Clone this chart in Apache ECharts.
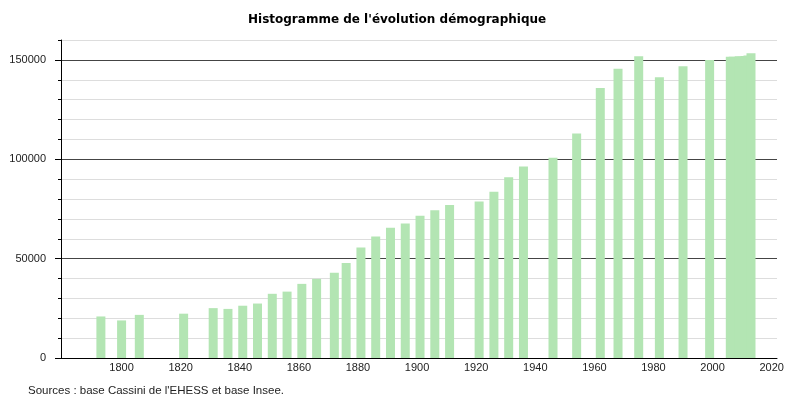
<!DOCTYPE html>
<html><head><meta charset="utf-8">
<script src="https://cdn.jsdelivr.net/npm/echarts@6/dist/echarts.min.js"></script>
<style>html,body{margin:0;padding:0;background:#fff}#c{width:806px;height:403px}</style>
</head><body><div id="c"></div>
<script>
const years = [1793,1800,1806,1821,1831,1836,1841,1846,1851,1856,1861,1866,1872,1876,1881,1886,1891,1896,1901,1906,1911,1921,1926,1931,1936,1946,1954,1962,1968,1975,1982,1990,1999,2006,2007,2008,2009,2010,2011,2012,2013];
const population = [20900,18900,21700,22300,25100,24700,26300,27400,32300,33400,37300,39800,42900,47800,55600,61100,65500,67700,71600,74300,77000,78700,83700,90900,96400,100800,112900,135800,145500,151800,141200,146800,150000,151600,151600,151500,151800,151700,151900,152200,153300];
const xTickLabels = [1800,1820,1840,1860,1880,1900,1920,1940,1960,1980,2000,2020];
const yTickLabels = [0,50000,100000,150000];
const titleText = "Histogramme de l'évolution démographique";
const sourceText = "Sources : base Cassini de l'EHESS et base Insee.";

const chart = echarts.init(document.getElementById('c'), null, {renderer: 'canvas'});
const data = years.map((y, i) => [y, population[i]]);
const lab = {fontFamily: 'Liberation Sans', fontSize: 11, color: '#222'};
chart.setOption({
  animation: false,
  backgroundColor: '#fff',
  title: {
    text: titleText, left: 243, top: 9,
    textStyle: {fontFamily: 'DejaVu Sans', fontWeight: 'bold', fontSize: 12, color: '#000'}
  },
  graphic: [{
    type: 'text', left: 28, top: 385,
    style: {text: sourceText, fontFamily: 'Liberation Sans', fontSize: 11.5, fill: '#222'}
  }],
  grid: {left: 61, right: 29, top: 40, bottom: 45, containLabel: false},
  xAxis: {
    type: 'value', min: 1779.5, max: 2021.8,
    axisLine: {show: true, lineStyle: {color: '#000', width: 1}},
    axisTick: {show: false},
    splitLine: {show: false},
    axisLabel: Object.assign({customValues: xTickLabels, formatter: v => String(v), margin: 4}, lab)
  },
  yAxis: [{
    type: 'value', min: 0, max: 160000, interval: 10000, position: 'left',
    axisLine: {show: true, lineStyle: {color: '#000', width: 1}},
    axisTick: {show: true, length: 3, lineStyle: {color: '#000'}},
    axisLabel: {show: false},
    splitLine: {show: true, lineStyle: {color: ['#444', '#ddd', '#ddd', '#ddd', '#ddd'], width: 1}}
  }, {
    type: 'value', min: 0, max: 160000, position: 'left',
    axisLine: {show: false},
    axisTick: {show: true, length: 6, customValues: yTickLabels, lineStyle: {color: '#000'}},
    splitLine: {show: false},
    axisLabel: Object.assign({customValues: yTickLabels, formatter: v => String(v), margin: 15}, lab)
  }],
  series: [{
    type: 'bar', data: data, barWidth: 9, yAxisIndex: 0,
    itemStyle: {color: '#b3e5b3'},
    emphasis: {disabled: true}
  }]
});
</script></body></html>
